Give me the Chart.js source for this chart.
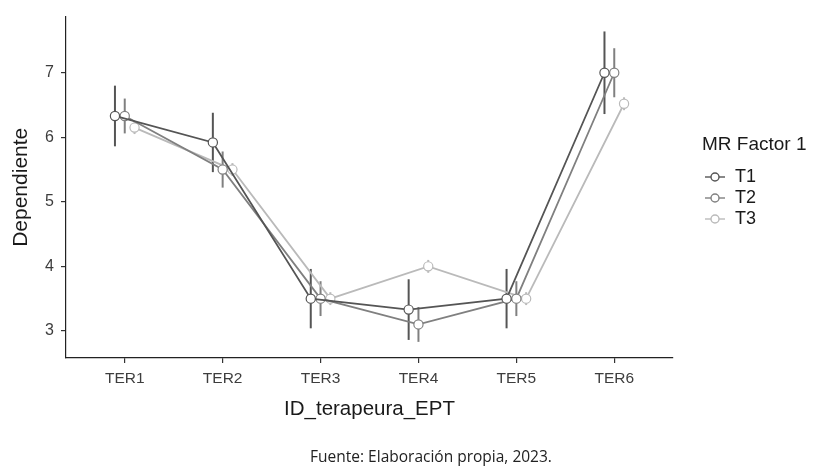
<!DOCTYPE html>
<html>
<head>
<meta charset="utf-8">
<script src="https://cdn.jsdelivr.net/npm/chart.js@4.4.1/dist/chart.umd.min.js"></script>
<style>
  html, body { margin: 0; padding: 0; background: #fff; }
  #wrap { width: 813px; height: 469px; }
</style>
</head>
<body>
<div id="wrap"><canvas id="chart"></canvas></div>
<script>
const categories = ['TER1', 'TER2', 'TER3', 'TER4', 'TER5', 'TER6'];
const seriesNames = ['T1', 'T2', 'T3'];
const t1Means = [6.33, 5.92, 3.5, 3.33, 3.5, 7.0];
const t2Means = [6.33, 5.5, 3.5, 3.1, 3.5, 7.0];
const t3Means = [6.15, 5.5, 3.5, 4.0, 3.5, 6.52];
const t1Err = [0.47, 0.46, 0.46, 0.47, 0.46, 0.64];
const t2Err = [0.27, 0.28, 0.27, 0.27, 0.27, 0.38];
const t3Err = [0.1, 0.1, 0.1, 0.1, 0.1, 0.1];
const yTicks = [3, 4, 5, 6, 7];

const means = [t1Means, t2Means, t3Means];
const errs = [t1Err, t2Err, t3Err];
const dodge = [-0.1, 0, 0.1];
const colors = ['#555555', '#808080', '#bababa'];
const FONT = '"Liberation Sans", Arial, sans-serif';

const datasets = seriesNames.map((name, s) => ({
    label: name,
    data: categories.map((c, i) => ({ x: i + 1 + dodge[s], y: means[s][i] })),
    showLine: true,
    borderColor: colors[s],
    borderWidth: 1.8,
    pointRadius: 4.6,
    pointBorderWidth: 1.2,
    pointBackgroundColor: '#ffffff',
    pointBorderColor: colors[s],
    errors: errs[s]
}));

// vertical error bars drawn through the scales
const errorBars = {
    id: 'errorBars',
    beforeDatasetsDraw(chart) {
        const { ctx, scales: { x, y } } = chart;
        ctx.save();
        chart.data.datasets.forEach((ds) => {
            ctx.strokeStyle = ds.borderColor;
            ctx.lineWidth = 2;
            ds.data.forEach((p, i) => {
                const px = x.getPixelForValue(p.x);
                ctx.beginPath();
                ctx.moveTo(px, y.getPixelForValue(p.y + ds.errors[i]));
                ctx.lineTo(px, y.getPixelForValue(p.y - ds.errors[i]));
                ctx.stroke();
            });
        });
        ctx.restore();
    }
};

const sideLegend = {
    id: 'sideLegend',
    afterDraw(chart) {
        const ctx = chart.ctx;
        ctx.save();
        ctx.textBaseline = 'middle';
        ctx.textAlign = 'left';
        ctx.fillStyle = '#1a1a1a';
        ctx.font = '19px ' + FONT;
        ctx.fillText('MR Factor 1', 702, 145);
        chart.data.datasets.forEach((ds, s) => {
            const yy = 177 + s * 21;
            ctx.strokeStyle = ds.borderColor;
            ctx.lineWidth = 1.4;
            ctx.beginPath();
            ctx.moveTo(705, yy);
            ctx.lineTo(725, yy);
            ctx.stroke();
            ctx.beginPath();
            ctx.arc(715, yy, 4, 0, Math.PI * 2);
            ctx.fillStyle = '#fff';
            ctx.fill();
            ctx.stroke();
            ctx.fillStyle = '#1a1a1a';
            ctx.font = '18px ' + FONT;
            ctx.fillText(ds.label, 735, yy);
        });
        ctx.font = '15.5px "Open Sans", sans-serif';
        ctx.textAlign = 'center';
        ctx.fillStyle = '#222';
        ctx.fillText('Fuente: Elaboración propia, 2023.', 431, 458);
        ctx.restore();
    }
};

new Chart(document.getElementById('chart'), {
    type: 'scatter',
    data: { datasets: datasets },
    options: {
        responsive: true,
        maintainAspectRatio: false,
        animation: false,
        layout: { padding: { left: 0, top: 8, right: 140, bottom: 40 } },
        plugins: {
            legend: { display: false },
            tooltip: { enabled: false }
        },
        scales: {
            x: {
                type: 'linear',
                min: 0.4,
                max: 6.6,
                afterBuildTicks: (scale) => { scale.ticks = categories.map((c, i) => ({ value: i + 1 })); },
                afterFit: (scale) => { scale.height = 71; },
                ticks: {
                    callback: (v) => categories[v - 1],
                    font: { family: FONT, size: 15.5 },
                    color: '#3d3d3d',
                    padding: 6,
                    maxRotation: 0
                },
                grid: { drawOnChartArea: false, tickLength: 5, color: '#333', lineWidth: 1.2 },
                border: { color: '#222', width: 1.2 },
                title: {
                    display: true,
                    text: 'ID_terapeura_EPT',
                    font: { family: FONT, size: 20.5 },
                    color: '#1a1a1a',
                    padding: { top: 0, bottom: 7 }
                }
            },
            y: {
                min: 2.58,
                max: 7.87,
                afterBuildTicks: (scale) => { scale.ticks = yTicks.map(v => ({ value: v })); },
                afterFit: (scale) => { scale.width = 66; },
                ticks: {
                    font: { family: FONT, size: 16 },
                    color: '#3d3d3d',
                    padding: 7
                },
                grid: { drawOnChartArea: false, tickLength: 5, color: '#333', lineWidth: 1.2 },
                border: { color: '#222', width: 1.2 },
                title: {
                    display: true,
                    text: 'Dependiente',
                    font: { family: FONT, size: 21 },
                    color: '#1a1a1a',
                    padding: { top: 9, bottom: 0 }
                }
            }
        }
    },
    plugins: [errorBars, sideLegend]
});
</script>
</body>
</html>
